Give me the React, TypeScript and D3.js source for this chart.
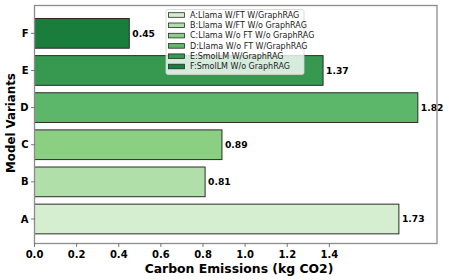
import { useEffect, useRef } from 'react';
import * as d3 from 'd3';

const categories = ['A', 'B', 'C', 'D', 'E', 'F'];
const emissions = [1.73, 0.81, 0.89, 1.82, 1.37, 0.45];
const variantNames = [
  'A:Llama W/FT W/GraphRAG',
  'B:Llama W/FT W/o GraphRAG',
  'C:Llama W/o FT W/o GraphRAG',
  'D:Llama W/o FT W/GraphRAG',
  'E:SmolLM W/GraphRAG',
  'F:SmolLM W/o GraphRAG',
];
const barColors = ['#d4eecf', '#b1dfaa', '#8bcf83', '#5cb76a', '#36994f', '#1a7d3c'];
const xTicks = [0, 0.2, 0.4, 0.6, 0.8, 1.0, 1.2, 1.4];

const W = 449;
const H = 280;
const FONT = '"DejaVu Sans", sans-serif';

export default function App() {
  const svgRef = useRef<SVGSVGElement>(null);

  useEffect(() => {
    if (!svgRef.current) return;
    const svg = d3.select(svgRef.current);
    svg.selectAll('*').remove();

    const left = 34.5;
    const right = 437;
    const top = 5.5;
    const bottom = 243.5;

    const x = d3.scaleLinear()
      .domain([0, d3.max(emissions)! * 1.05])
      .range([left, right]);

    // category index -> y, matplotlib style margins
    const y = d3.scaleLinear()
      .domain([-0.66, 5.75])
      .range([bottom, top]);
    const barH = (y(0) - y(1)) * 0.8;

    const g = svg.append('g');

    // Bars
    g.selectAll('.bar')
      .data(emissions)
      .join('rect')
      .attr('class', 'bar')
      .attr('x', x(0))
      .attr('y', (_, i) => y(i) - barH / 2)
      .attr('width', d => x(d) - x(0))
      .attr('height', barH)
      .attr('fill', (_, i) => barColors[i])
      .attr('stroke', '#2b2b2b')
      .attr('stroke-width', 1);

    // Value labels
    g.selectAll('.val')
      .data(emissions)
      .join('text')
      .attr('class', 'val')
      .attr('x', d => x(d) + 3)
      .attr('y', (_, i) => y(i))
      .attr('dy', '0.35em')
      .style('font-family', FONT)
      .style('font-weight', 'bold')
      .style('font-size', '9.2px')
      .attr('fill', '#000')
      .text(d => d.toFixed(2));

    // Frame
    g.append('rect')
      .attr('x', left)
      .attr('y', top)
      .attr('width', right - left)
      .attr('height', bottom - top)
      .attr('fill', 'none')
      .attr('stroke', '#8c8c8c')
      .attr('stroke-width', 1.3);

    // X axis ticks
    const xa = g.append('g');
    xa.selectAll('line')
      .data(xTicks)
      .join('line')
      .attr('x1', d => x(d))
      .attr('x2', d => x(d))
      .attr('y1', bottom)
      .attr('y2', bottom + 3.5)
      .attr('stroke', '#555')
      .attr('stroke-width', 0.8);
    xa.selectAll('text')
      .data(xTicks)
      .join('text')
      .attr('x', d => x(d))
      .attr('y', 257.5)
      .attr('text-anchor', 'middle')
      .style('font-family', FONT)
      .style('font-weight', 'bold')
      .style('font-size', '10px')
      .text(d => d.toFixed(1));

    // Y axis ticks
    const ya = g.append('g');
    ya.selectAll('line')
      .data(categories)
      .join('line')
      .attr('x1', left)
      .attr('x2', left - 3.5)
      .attr('y1', (_, i) => y(i))
      .attr('y2', (_, i) => y(i))
      .attr('stroke', '#555')
      .attr('stroke-width', 0.8);
    ya.selectAll('text')
      .data(categories)
      .join('text')
      .attr('x', left - 6)
      .attr('y', (_, i) => y(i))
      .attr('dy', '0.36em')
      .attr('text-anchor', 'end')
      .style('font-family', FONT)
      .style('font-weight', 'bold')
      .style('font-size', '10px')
      .text(d => d);

    // Axis labels
    g.append('text')
      .attr('x', 239)
      .attr('y', 272.5)
      .attr('text-anchor', 'middle')
      .style('font-family', FONT)
      .style('font-weight', 'bold')
      .style('font-size', '12.4px')
      .text('Carbon Emissions (kg CO2)');

    g.append('text')
      .attr('transform', `translate(14.5,${(73 + 173) / 2}) rotate(-90)`)
      .attr('text-anchor', 'middle')
      .style('font-family', FONT)
      .style('font-weight', 'bold')
      .style('font-size', '11.8px')
      .text('Model Variants');

    // Legend
    const lg = g.append('g').attr('transform', 'translate(166,9.5)');
    lg.append('rect')
      .attr('width', 138)
      .attr('height', 65)
      .attr('rx', 2)
      .attr('fill', 'white')
      .attr('fill-opacity', 0.8)
      .attr('stroke', '#d0d0d0')
      .attr('stroke-width', 0.8);
    const rows = lg.selectAll('.row')
      .data(variantNames)
      .join('g')
      .attr('class', 'row')
      .attr('transform', (_, i) => `translate(0,${5.5 + i * 10.3})`);
    rows.append('rect')
      .attr('x', 2.5)
      .attr('y', -2.3)
      .attr('width', 16)
      .attr('height', 4.6)
      .attr('fill', (_, i) => barColors[i])
      .attr('stroke', '#2b2b2b')
      .attr('stroke-width', 0.8);
    rows.append('text')
      .attr('x', 24)
      .attr('y', 0)
      .attr('dy', '0.35em')
      .style('font-family', FONT)
      .style('font-size', '8px')
      .attr('fill', '#222')
      .text(d => d);
  }, []);

  return (
    <svg
      ref={svgRef}
      width={W}
      height={H}
      style={{ position: 'absolute', left: 0, top: 0, background: 'white' }}
    />
  );
}
